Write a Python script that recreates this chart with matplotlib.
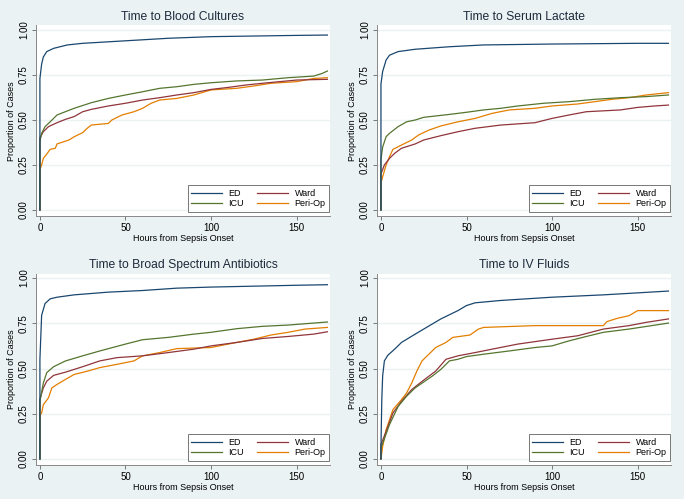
import matplotlib
matplotlib.use("Agg")
import matplotlib.pyplot as plt

plt.rcParams["font.family"] = ["Liberation Sans", "DejaVu Sans"]

# Stata s2color-ish palette
BG = "#eaf2f3"
COLORS = {"ED": "#1a476f", "Ward": "#90353b", "ICU": "#55752f", "Peri-Op": "#e37e00"}

TITLES = ["Time to Blood Cultures", "Time to Serum Lactate",
          "Time to Broad Spectrum Antibiotics", "Time to IV Fluids"]
X_TICKS = [0, 50, 100, 150]
Y_TICKS = [0.0, 0.25, 0.5, 0.75, 1.0]

# --- Blood cultures
BC_ED_H = [0, 0, 1, 2, 4, 8, 16, 25, 50, 75, 100, 150, 168]
BC_ED = [0, 0.73, 0.81, 0.85, 0.88, 0.898, 0.917, 0.926, 0.94, 0.954, 0.963, 0.97, 0.972]
BC_ICU_H = [0, 0, 1, 3, 6, 10, 20, 30, 40, 50, 60, 70, 80, 90, 100, 115, 130, 145, 160, 165, 168]
BC_ICU = [0, 0.38, 0.426, 0.463, 0.49, 0.528, 0.565, 0.596, 0.62, 0.639, 0.657, 0.676,
          0.685, 0.698, 0.707, 0.717, 0.722, 0.735, 0.744, 0.759, 0.772]
BC_WARD_H = [0, 0, 2, 5, 10, 15, 20, 25, 30, 40, 50, 60, 70, 80, 90, 100, 110, 120, 130, 140, 150, 168]
BC_WARD = [0, 0.40, 0.435, 0.463, 0.485, 0.504, 0.519, 0.546, 0.559, 0.578, 0.593, 0.611,
           0.624, 0.639, 0.652, 0.67, 0.681, 0.694, 0.704, 0.713, 0.722, 0.726]
BC_PERI_H = [0, 0, 1, 2, 4, 6, 9, 10, 17, 20, 25, 28, 30, 40, 42, 48, 55, 60, 65, 70, 80,
             90, 100, 115, 125, 135, 150, 160, 168]
BC_PERI = [0, 0.225, 0.25, 0.287, 0.311, 0.337, 0.343, 0.367, 0.389, 0.407, 0.43, 0.457,
           0.472, 0.481, 0.5, 0.528, 0.546, 0.565, 0.593, 0.611, 0.62, 0.639, 0.667, 0.676,
           0.689, 0.704, 0.713, 0.731, 0.735]

# --- Serum lactate
SL_ED_H = [0, 0, 1, 3, 5, 10, 20, 40, 60, 100, 150, 168]
SL_ED = [0, 0.70, 0.77, 0.833, 0.86, 0.88, 0.893, 0.907, 0.917, 0.922, 0.926, 0.926]
SL_ICU_H = [0, 0, 1, 3, 5, 10, 15, 20, 25, 40, 50, 60, 70, 80, 95, 110, 125, 140, 155, 168]
SL_ICU = [0, 0.28, 0.35, 0.407, 0.426, 0.463, 0.49, 0.5, 0.515, 0.531, 0.543, 0.556, 0.565,
          0.578, 0.593, 0.602, 0.615, 0.624, 0.63, 0.639]
SL_WARD_H = [0, 0, 2, 5, 8, 12, 20, 25, 35, 45, 55, 70, 90, 100, 110, 120, 140, 150, 160, 168]
SL_WARD = [0, 0.2, 0.25, 0.287, 0.315, 0.343, 0.367, 0.389, 0.413, 0.435, 0.454, 0.472,
           0.485, 0.509, 0.528, 0.546, 0.556, 0.57, 0.578, 0.583]
SL_PERI_H = [0, 0, 1, 3, 5, 7, 12, 18, 22, 28, 35, 45, 55, 65, 75, 90, 100, 115, 125, 135,
             145, 155, 168]
SL_PERI = [0, 0.15, 0.185, 0.25, 0.296, 0.337, 0.361, 0.389, 0.417, 0.444, 0.467, 0.49,
           0.509, 0.537, 0.556, 0.565, 0.578, 0.589, 0.602, 0.615, 0.624, 0.639, 0.652]

# --- Broad spectrum antibiotics
AB_ED_H = [0, 0, 1, 3, 6, 10, 20, 40, 60, 80, 100, 150, 168]
AB_ED = [0, 0.55, 0.794, 0.859, 0.885, 0.894, 0.907, 0.922, 0.931, 0.944, 0.95, 0.96, 0.963]
AB_ICU_H = [0, 0, 2, 4, 8, 15, 25, 35, 50, 60, 75, 90, 100, 115, 130, 145, 168]
AB_ICU = [0, 0.32, 0.42, 0.477, 0.51, 0.542, 0.57, 0.597, 0.635, 0.659, 0.672, 0.69, 0.7,
          0.72, 0.733, 0.74, 0.757]
AB_WARD_H = [0, 0, 2, 4, 8, 15, 25, 35, 45, 60, 75, 90, 100, 115, 130, 145, 160, 168]
AB_WARD = [0, 0.33, 0.393, 0.43, 0.462, 0.48, 0.51, 0.542, 0.56, 0.57, 0.588, 0.607, 0.625,
           0.644, 0.666, 0.677, 0.69, 0.703]
AB_PERI_H = [0, 0, 1, 2, 5, 7, 10, 15, 20, 28, 35, 45, 55, 60, 70, 80, 100, 110, 125, 135,
             145, 155, 168]
AB_PERI = [0, 0.24, 0.254, 0.3, 0.338, 0.393, 0.412, 0.44, 0.467, 0.486, 0.505, 0.523,
           0.542, 0.57, 0.588, 0.61, 0.616, 0.635, 0.662, 0.685, 0.7, 0.718, 0.727]

# --- IV fluids
IV_ED_H = [0, 0, 0.5, 1, 2, 4, 8, 12, 20, 25, 35, 45, 50, 55, 70, 100, 130, 150, 168]
IV_ED = [0, 0.07, 0.33, 0.46, 0.542, 0.573, 0.607, 0.644, 0.69, 0.718, 0.774, 0.82, 0.848,
         0.863, 0.876, 0.894, 0.907, 0.918, 0.928]
IV_ICU_H = [0, 0, 5, 10, 15, 20, 30, 35, 40, 45, 50, 60, 75, 90, 100, 110, 120, 130, 145, 168]
IV_ICU = [0, 0.06, 0.19, 0.29, 0.347, 0.393, 0.458, 0.495, 0.542, 0.551, 0.566, 0.579,
          0.597, 0.616, 0.625, 0.653, 0.677, 0.7, 0.718, 0.751]
IV_WARD_H = [0, 0, 3, 7, 12, 18, 25, 32, 38, 45, 55, 65, 80, 100, 115, 130, 145, 155, 168]
IV_WARD = [0, 0.08, 0.152, 0.254, 0.319, 0.384, 0.436, 0.486, 0.551, 0.57, 0.588, 0.607,
           0.635, 0.662, 0.681, 0.718, 0.737, 0.755, 0.774]
IV_PERI_H = [0, 1, 3, 7, 12, 15, 18, 21, 24, 28, 32, 38, 42, 52, 57, 60, 90, 130, 132, 138,
             145, 150, 168]
IV_PERI = [0, 0.069, 0.161, 0.273, 0.328, 0.365, 0.42, 0.486, 0.542, 0.579, 0.616, 0.644,
           0.672, 0.685, 0.718, 0.727, 0.737, 0.737, 0.759, 0.777, 0.792, 0.82, 0.82]

PANELS = [
    {"ED": (BC_ED_H, BC_ED), "Ward": (BC_WARD_H, BC_WARD),
     "ICU": (BC_ICU_H, BC_ICU), "Peri-Op": (BC_PERI_H, BC_PERI)},
    {"ED": (SL_ED_H, SL_ED), "Ward": (SL_WARD_H, SL_WARD),
     "ICU": (SL_ICU_H, SL_ICU), "Peri-Op": (SL_PERI_H, SL_PERI)},
    {"ED": (AB_ED_H, AB_ED), "Ward": (AB_WARD_H, AB_WARD),
     "ICU": (AB_ICU_H, AB_ICU), "Peri-Op": (AB_PERI_H, AB_PERI)},
    {"ED": (IV_ED_H, IV_ED), "Ward": (IV_WARD_H, IV_WARD),
     "ICU": (IV_ICU_H, IV_ICU), "Peri-Op": (IV_PERI_H, IV_PERI)},
]

# axes rectangles in figure fraction (left, bottom, width, height)
RECTS = [
    (0.0526, 0.5665, 0.4298, 0.3824),
    (0.5512, 0.5665, 0.4298, 0.3824),
    (0.0526, 0.0675, 0.4298, 0.3844),
    (0.5512, 0.0675, 0.4298, 0.3844),
]


def draw_panel(ax, title, series):
    ax.set_facecolor("white")
    for y in Y_TICKS:
        ax.axhline(y, color=BG, linewidth=1.0, zorder=0)

    # legend order: ED, Ward on top row, ICU, Peri-Op on the bottom row
    handles = {}
    for name in ["Peri-Op", "Ward", "ICU", "ED"]:
        h, p = series[name]
        (line,) = ax.plot(h, p, color=COLORS[name], linewidth=0.9, label=name)
        handles[name] = line

    ax.set_xlim(-2.3, 169.5)
    ax.set_ylim(-0.035, 1.025)
    ax.set_xticks(X_TICKS)
    ax.set_yticks(Y_TICKS)
    ax.set_yticklabels([f"{v:.2f}" for v in Y_TICKS], rotation=90, va="center")
    ax.tick_params(labelsize=7, length=3, width=0.6, color="#666666", pad=2)

    for side in ["top", "right"]:
        ax.spines[side].set_visible(False)
    for side in ["left", "bottom"]:
        ax.spines[side].set_color("#888888")
        ax.spines[side].set_linewidth(0.7)

    ax.set_title(title, fontsize=8.7, color="#1e2b3c", pad=4)
    ax.set_xlabel("Hours from Sepsis Onset", fontsize=6.5, labelpad=0.5)
    ax.set_ylabel("Proportion of Cases", fontsize=6.5, labelpad=2)

    order = ["ED", "ICU", "Ward", "Peri-Op"]
    leg = ax.legend([handles[n] for n in order], order, ncol=2, loc="lower right",
                    bbox_to_anchor=(0.997, 0.023), fontsize=6.5, frameon=True,
                    fancybox=False, handlelength=3.4, columnspacing=1.5,
                    handletextpad=0.7, borderpad=0.4, labelspacing=0.15,
                    borderaxespad=0)
    leg.get_frame().set_edgecolor("#555555")
    leg.get_frame().set_linewidth(0.7)


fig = plt.figure(figsize=(6.84, 4.99), dpi=100)
fig.patch.set_facecolor(BG)

for rect, title, series in zip(RECTS, TITLES, PANELS):
    ax = fig.add_axes(rect)
    draw_panel(ax, title, series)

fig.savefig("out.png", dpi=100, facecolor=BG)
